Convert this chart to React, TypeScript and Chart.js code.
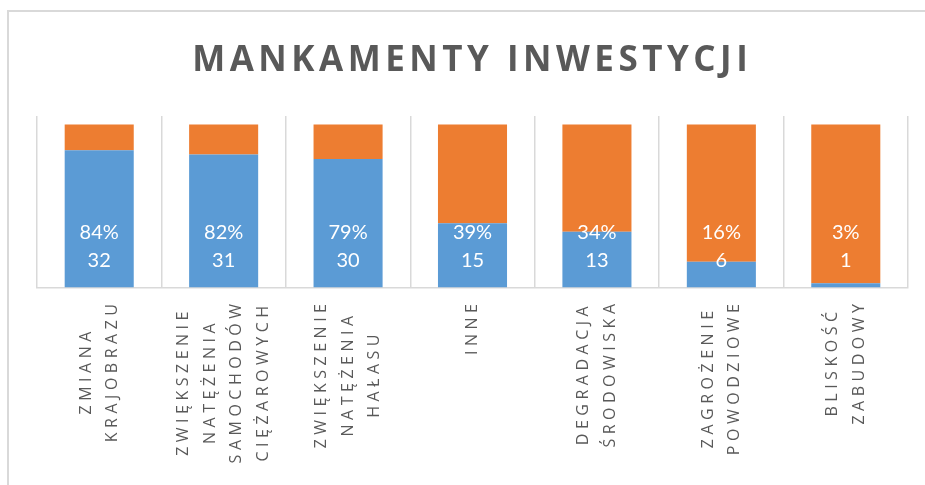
import React, { useEffect, useRef } from "react";
import { Chart, registerables } from "chart.js";

Chart.register(...registerables);

const TITLE = "MANKAMENTY INWESTYCJI";
const categories: string[][] = [
  ["ZMIANA", "KRAJOBRAZU"],
  ["ZWIĘKSZENIE", "NATĘŻENIA", "SAMOCHODÓW", "CIĘŻAROWYCH"],
  ["ZWIĘKSZENIE", "NATĘŻENIA", "HAŁASU"],
  ["INNE"],
  ["DEGRADACJA", "ŚRODOWISKA"],
  ["ZAGROŻENIE", "POWODZIOWE"],
  ["BLISKOŚĆ", "ZABUDOWY"],
];
const yesValues = [32, 31, 30, 15, 13, 6, 1];
const otherValues = [6, 7, 8, 23, 25, 32, 37];

const BLUE = "#5B9BD5";
const ORANGE = "#ED7D31";
const GRID = "#D9D9D9";
const TEXT = "#595959";

const overlayPlugin = {
  id: "overlay",
  afterDraw(chart: any) {
    const ctx: CanvasRenderingContext2D = chart.ctx;
    const area = chart.chartArea;
    const xScale = chart.scales.x;

    // Title
    ctx.save();
    ctx.font = 'bold 35px "Open Sans"';
    (ctx as any).letterSpacing = "4.5px";
    ctx.fillStyle = TEXT;
    ctx.textAlign = "left";
    ctx.textBaseline = "alphabetic";
    const tw = ctx.measureText(TITLE).width - 4.5;
    ctx.fillText(TITLE, 470 - tw / 2, 70.5);
    ctx.restore();

    // Data labels (inside base)
    const meta = chart.getDatasetMeta(0);
    ctx.save();
    ctx.font = '20px Lato';
    ctx.fillStyle = "#FFFFFF";
    ctx.textAlign = "center";
    ctx.textBaseline = "middle";
    meta.data.forEach((bar: any, i: number) => {
      const v = yesValues[i];
      const total = yesValues[i] + otherValues[i];
      const pct = Math.round((v / total) * 100) + "%";
      ctx.fillText(pct, bar.x, bar.base - 55);
      ctx.fillText(String(v), bar.x, bar.base - 27);
    });
    ctx.restore();

    // Category labels (rotated, letter-spaced, centered lines)
    ctx.save();
    ctx.font = '16px "Open Sans"';
    const ls = 4.5;
    (ctx as any).letterSpacing = ls + "px";
    ctx.fillStyle = TEXT;
    ctx.textAlign = "left";
    ctx.textBaseline = "middle";
    const lineGap = 26.5;
    categories.forEach((lines, i) => {
      const cx = xScale.getPixelForValue(i);
      const widths = lines.map((l) => ctx.measureText(l).width - ls);
      const maxW = Math.max(...widths);
      const cy = area.bottom + 16.5 + maxW / 2;
      lines.forEach((line, j) => {
        const lx = cx + (j - (lines.length - 1) / 2) * lineGap;
        ctx.save();
        ctx.translate(lx, cy);
        ctx.rotate(-Math.PI / 2);
        ctx.fillText(line, -widths[j] / 2, 0);
        ctx.restore();
      });
    });
    ctx.restore();
  },
};

export default function App() {
  const ref = useRef<HTMLCanvasElement>(null);
  useEffect(() => {
    if (!ref.current) return;
    const chart = new Chart(ref.current, {
      type: "bar",
      data: {
        labels: categories.map((c) => c.join(" ")),
        datasets: [
          {
            label: "Tak",
            data: yesValues,
            backgroundColor: BLUE,
            borderWidth: 0,
            barPercentage: 0.555,
            categoryPercentage: 1,
          },
          {
            label: "Inne",
            data: otherValues,
            backgroundColor: ORANGE,
            borderWidth: 0,
            barPercentage: 0.555,
            categoryPercentage: 1,
          },
        ],
      },
      options: {
        responsive: false,
        animation: false,
        layout: { padding: { left: 37, right: 17, top: 116, bottom: 197.5 } },
        plugins: {
          legend: { display: false },
          tooltip: { enabled: false },
          title: { display: false },
        },
        scales: {
          x: {
            stacked: true,
            offset: true,
            grid: {
              display: true,
              offset: true,
              color: GRID,
              lineWidth: 1.5,
              drawTicks: false,
            },
            border: { display: true, color: GRID, width: 1.5 },
            ticks: { display: false },
          },
          y: {
            stacked: true,
            display: false,
            min: 0,
            max: 40,
          },
        },
      },
      plugins: [overlayPlugin],
    });
    let alive = true;
    if ((document as any).fonts) {
      Promise.all([
        document.fonts.load('bold 35px "Open Sans"'),
        document.fonts.load('16px "Open Sans"'),
        document.fonts.load("20px Lato"),
      ]).then(() => {
        if (alive) chart.update();
      });
    }
    return () => {
      alive = false;
      chart.destroy();
    };
  }, []);

  return (
    <div
      style={{
        position: "fixed",
        left: 0,
        top: 0,
        width: 925,
        height: 485,
        overflow: "hidden",
        background: "#FFFFFF",
      }}
    >
      <div
        style={{
          position: "absolute",
          left: 7,
          top: 10,
          width: 1000,
          height: 1000,
          border: `2px solid ${GRID}`,
          boxSizing: "border-box",
        }}
      />
      <canvas
        ref={ref}
        width={925}
        height={485}
        style={{ position: "absolute", left: 0, top: 0, display: "block" }}
      />
    </div>
  );
}
